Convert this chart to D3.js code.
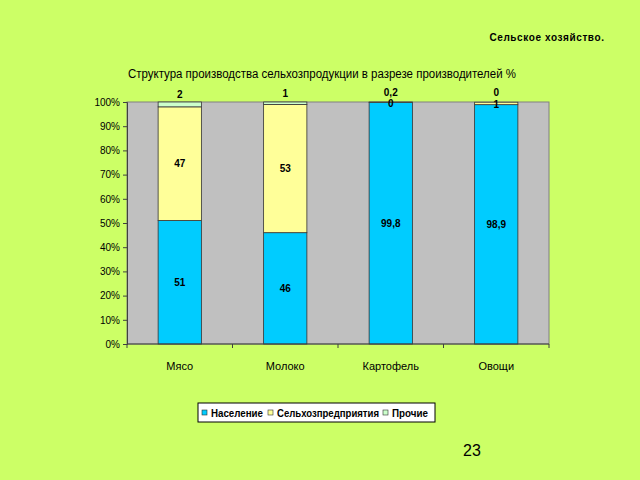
<!DOCTYPE html>
<html>
  <head>
    <meta charset="utf-8" />
    <script src="https://d3js.org/d3.v7.min.js"></script>
    <style>
      body { margin: 0; background: #ccff66; }
      svg { display: block; }
      svg text { font-family: "Liberation Sans", Arial, sans-serif; fill: #000; }
    </style>
  </head>
  <body>
    <svg width="640" height="480"></svg>
    <script>
      // данные
      const categories = ["Мясо", "Молоко", "Картофель", "Овощи"];
      const seriesNames = ["Население", "Сельхозпредприятия", "Прочие"];
      const naselenie = [51, 46, 99.8, 98.9];
      const selhoz = [47, 53, 0, 1];
      const prochie = [2, 1, 0.2, 0];
      const yTicks = [0, 10, 20, 30, 40, 50, 60, 70, 80, 90, 100];
      const colors = ["#00ccff", "#ffff99", "#ccffcc"];

      const svg = d3.select("svg");
      const mLeft = 127, mRight = 549, mTop = 102, mBottom = 344;

      const x = d3.scaleBand().domain(categories).range([mLeft, mRight]);
      const y = d3.scaleLinear().domain([0, 100]).range([mBottom, mTop]);

      // заголовки
      svg.append("text")
        .attr("x", 547).attr("y", 41)
        .attr("text-anchor", "middle")
        .attr("font-size", 10).attr("font-weight", "bold")
        .attr("letter-spacing", 0.6)
        .text("Сельское хозяйство.");

      svg.append("text")
        .attr("x", 128).attr("y", 78)
        .attr("font-size", 12.5)
        .attr("textLength", 388)
        .attr("lengthAdjust", "spacingAndGlyphs")
        .text("Структура производства сельхозпродукции в разрезе производителей %");

      // фон области построения
      svg.append("rect")
        .attr("x", mLeft).attr("y", mTop)
        .attr("width", mRight - mLeft).attr("height", mBottom - mTop)
        .attr("fill", "#c0c0c0").attr("stroke", "#808080");

      // стек
      const rows = categories.map((c, i) => ({
        cat: c, "Население": naselenie[i], "Сельхозпредприятия": selhoz[i], "Прочие": prochie[i]
      }));
      const stacked = d3.stack().keys(seriesNames)(rows);

      const bw = x.bandwidth() * 0.41;
      const groups = svg.selectAll(".series")
        .data(stacked).enter().append("g")
        .attr("fill", (d, i) => colors[i]);

      groups.selectAll("rect")
        .data(d => d).enter().append("rect")
        .attr("x", d => x(d.data.cat) + (x.bandwidth() - bw) / 2)
        .attr("y", d => y(d[1]))
        .attr("width", bw)
        .attr("height", d => y(d[0]) - y(d[1]))
        .attr("stroke", "#333")
        .attr("stroke-width", 0.8);

      // подписи значений
      stacked.forEach((s, si) => {
        s.forEach(d => {
          const v = d[1] - d[0];
          const dy = si === 2 ? -10 : (si === 1 && v < 3 ? 1 : 0);
          svg.append("text")
            .attr("x", x(d.data.cat) + x.bandwidth() / 2)
            .attr("y", y((d[0] + d[1]) / 2) + dy)
            .attr("dy", "0.35em")
            .attr("text-anchor", "middle")
            .attr("font-size", 10).attr("font-weight", "bold")
            .text(String(+v.toFixed(1)).replace(".", ","));
        });
      });

      // ось Y
      const yAxis = svg.append("g")
        .attr("transform", `translate(${mLeft},0)`)
        .call(d3.axisLeft(y).tickValues(yTicks).tickSize(4).tickFormat(d => d + "%"));
      yAxis.select(".domain").attr("stroke", "#404040");
      yAxis.selectAll(".tick line").attr("stroke", "#404040");
      yAxis.selectAll("text").attr("font-size", 10).attr("font-family", "Liberation Sans, Arial").attr("x", -7);

      // ось X
      svg.append("line")
        .attr("x1", mLeft).attr("x2", mRight).attr("y1", mBottom).attr("y2", mBottom)
        .attr("stroke", "#404040");
      svg.selectAll(".xtick")
        .data(categories.concat([null])).enter().append("line")
        .attr("x1", (d, i) => mLeft + i * x.step())
        .attr("x2", (d, i) => mLeft + i * x.step())
        .attr("y1", mBottom).attr("y2", mBottom + 4)
        .attr("stroke", "#404040");
      svg.selectAll(".xlab")
        .data(categories).enter().append("text")
        .attr("x", d => x(d) + x.bandwidth() / 2)
        .attr("y", 370)
        .attr("text-anchor", "middle")
        .attr("font-size", 11)
        .text(d => d);

      // легенда
      const lg = svg.append("g").attr("transform", "translate(198,403)");
      lg.append("rect").attr("width", 237).attr("height", 19)
        .attr("fill", "#fff").attr("stroke", "#000");
      const legTextX = [13, 79, 194];
      const legW = [52, 102, 36];
      seriesNames.forEach((n, i) => {
        lg.append("rect")
          .attr("x", legTextX[i] - 9).attr("y", 7).attr("width", 5).attr("height", 5)
          .attr("fill", colors[i]).attr("stroke", "#333").attr("stroke-width", 0.6);
        lg.append("text")
          .attr("x", legTextX[i]).attr("y", 13.5)
          .attr("font-size", 10).attr("font-weight", "bold")
          .attr("textLength", legW[i])
          .attr("lengthAdjust", "spacingAndGlyphs")
          .text(n);
      });

      // номер слайда
      svg.append("text")
        .attr("x", 472).attr("y", 456)
        .attr("text-anchor", "middle")
        .attr("font-size", 16)
        .text("23");
    </script>
  </body>
</html>
